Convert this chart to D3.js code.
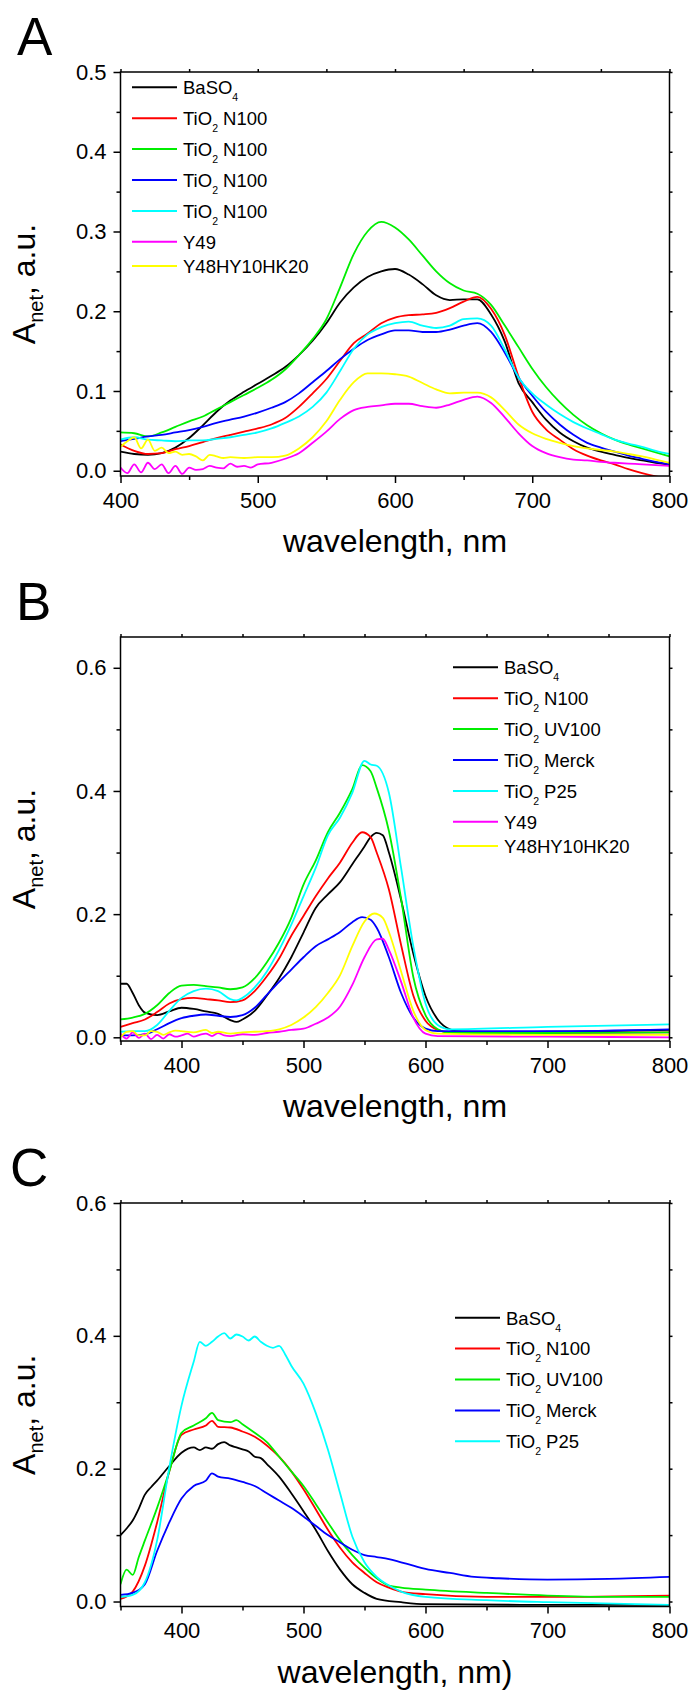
<!DOCTYPE html>
<html>
<head>
<meta charset="utf-8">
<script src="https://cdn.jsdelivr.net/npm/d3@7"></script>
<style>
  body { margin: 0; background: #fff; }
  svg { display: block; font-family: "Liberation Sans", Arial, sans-serif; }
</style>
</head>
<body>
<div id="chart"></div>
<script>
// legend labels, "_x" marks a subscript
const labelsAB = ["BaSO_4", "TiO_2 N100", "TiO_2 N100", "TiO_2 N100", "TiO_2 N100", "Y49", "Y48HY10HK20"];
const labelsB = ["BaSO_4", "TiO_2 N100", "TiO_2 UV100", "TiO_2 Merck", "TiO_2 P25", "Y49", "Y48HY10HK20"];
const labelsC = ["BaSO_4", "TiO_2 N100", "TiO_2 UV100", "TiO_2 Merck", "TiO_2 P25"];
const colors = ["#000000", "#ff0000", "#00ee00", "#0000ff", "#00ffff", "#ff00ff", "#ffff00"];

// panel A, [wavelength nm, A_net]
const A_BaSO4 = [[400,.024],[410,.021],[420,.020],[430,.022],[440,.029],[450,.041],[460,.057],[470,.074],[480,.088],[490,.099],[500,.109],[510,.119],[520,.130],[530,.145],[540,.163],[550,.185],[560,.211],[570,.230],[580,.243],[590,.250],[600,.253],[610,.246],[620,.234],[630,.220],[640,.214],[650,.215],[660,.215],[670,.196],[680,.162],[690,.110],[700,.086],[710,.064],[720,.048],[730,.037],[740,.029],[750,.024],[760,.020],[770,.016],[780,.013],[790,.010],[800,.008]];
const A_N100 = [[400,.033],[410,.025],[420,.021],[430,.022],[440,.027],[450,.031],[460,.036],[470,.041],[480,.045],[490,.049],[500,.053],[510,.058],[520,.066],[530,.080],[540,.097],[550,.115],[560,.138],[570,.160],[580,.172],[590,.185],[600,.192],[610,.195],[620,.196],[630,.198],[640,.204],[650,.212],[660,.218],[670,.203],[680,.170],[690,.118],[700,.074],[710,.052],[720,.039],[730,.027],[740,.019],[750,.013],[760,.008],[770,.002],[780,-.003],[790,-.007],[800,-.010]];
const A_N100g = [[400,.048],[410,.047],[420,.043],[430,.048],[440,.055],[450,.062],[460,.068],[470,.077],[480,.086],[490,.095],[500,.104],[510,.114],[520,.127],[530,.145],[540,.165],[550,.190],[560,.230],[570,.272],[580,.300],[590,.312],[600,.305],[610,.290],[620,.270],[630,.250],[640,.235],[650,.226],[660,.222],[670,.208],[680,.182],[690,.155],[700,.128],[710,.105],[720,.086],[730,.070],[740,.057],[750,.047],[760,.039],[770,.033],[780,.028],[790,.023],[800,.018]];
const A_N100b = [[400,.037],[410,.040],[420,.043],[430,.045],[440,.048],[450,.051],[460,.055],[470,.060],[480,.064],[490,.068],[500,.073],[510,.079],[520,.086],[530,.097],[540,.111],[550,.125],[560,.140],[570,.153],[580,.164],[590,.171],[600,.176],[610,.176],[620,.174],[630,.174],[640,.177],[650,.182],[660,.185],[670,.174],[680,.148],[690,.117],[700,.094],[710,.074],[720,.058],[730,.045],[740,.035],[750,.029],[760,.024],[770,.019],[780,.015],[790,.011],[800,.008]];
const A_N100c = [[400,.039],[410,.042],[420,.039],[430,.038],[440,.037],[450,.038],[460,.038],[470,.040],[480,.042],[490,.045],[500,.048],[510,.053],[520,.060],[530,.068],[540,.080],[550,.098],[560,.125],[570,.153],[580,.171],[590,.180],[600,.185],[610,.187],[620,.182],[630,.179],[640,.182],[650,.190],[660,.191],[670,.182],[680,.152],[690,.117],[700,.097],[710,.083],[720,.071],[730,.061],[740,.053],[750,.046],[760,.039],[770,.034],[780,.030],[790,.025],[800,.021]];
const A_Y49 = [[400,.004],[405,-.003],[410,.008],[415,-.002],[420,.010],[425,.002],[430,.008],[435,-.003],[440,.006],[445,-.004],[450,.004],[455,.001],[460,.002],[465,.006],[470,.004],[475,.003],[480,.009],[485,.005],[490,.006],[495,.004],[500,.008],[510,.010],[520,.015],[530,.022],[540,.035],[550,.049],[560,.065],[570,.076],[580,.080],[590,.082],[600,.084],[610,.084],[620,.081],[630,.079],[640,.083],[650,.089],[660,.093],[670,.085],[680,.067],[690,.047],[700,.031],[710,.022],[720,.017],[730,.014],[740,.013],[750,.011],[760,.010],[770,.009],[780,.008],[790,.007],[800,.006]];
const A_Y48 = [[400,.030],[405,.037],[410,.042],[415,.028],[420,.039],[425,.025],[430,.029],[435,.022],[440,.024],[445,.020],[450,.021],[455,.018],[460,.013],[465,.020],[470,.018],[475,.016],[480,.017],[490,.016],[500,.017],[510,.017],[520,.019],[530,.028],[540,.042],[550,.062],[560,.089],[570,.111],[580,.122],[590,.122],[600,.121],[610,.118],[620,.110],[630,.102],[640,.097],[650,.098],[660,.098],[670,.092],[680,.076],[690,.058],[700,.047],[710,.040],[720,.035],[730,.031],[740,.028],[750,.026],[760,.024],[770,.021],[780,.018],[790,.014],[800,.010]];

// panel B
const B_BaSO4 = [[350,.087],[355,.087],[360,.072],[365,.052],[370,.040],[380,.036],[390,.042],[400,.048],[410,.046],[420,.042],[430,.038],[440,.028],[445,.025],[450,.029],[460,.043],[470,.068],[480,.096],[490,.130],[500,.170],[510,.210],[520,.232],[530,.252],[540,.281],[550,.310],[555,.325],[560,.332],[565,.328],[570,.300],[580,.223],[590,.136],[600,.067],[610,.029],[620,.013],[630,.009],[650,.008],[700,.009],[750,.010],[800,.012]];
const B_N100 = [[350,.017],[360,.023],[370,.029],[380,.041],[390,.055],[400,.062],[410,.064],[420,.062],[430,.060],[440,.057],[450,.060],[460,.075],[470,.099],[480,.128],[490,.165],[500,.197],[510,.229],[520,.258],[530,.284],[540,.316],[548,.333],[555,.325],[560,.300],[570,.240],[580,.150],[590,.068],[600,.027],[610,.012],[620,.008],[700,.007],[800,.008]];
const B_UV100 = [[350,.029],[360,.032],[370,.038],[380,.052],[390,.072],[400,.084],[410,.085],[420,.083],[430,.081],[440,.078],[450,.081],[460,.096],[470,.122],[480,.154],[490,.194],[500,.248],[510,.287],[520,.333],[530,.365],[540,.403],[548,.442],[555,.432],[560,.405],[570,.335],[580,.225],[590,.098],[600,.036],[610,.013],[620,.007],[700,.007],[800,.008]];
const B_Merck = [[350,.003],[360,.003],[370,.005],[380,.013],[390,.023],[400,.031],[410,.035],[420,.037],[430,.035],[440,.033],[450,.036],[460,.048],[470,.069],[480,.090],[490,.110],[500,.130],[510,.148],[520,.159],[530,.171],[540,.187],[548,.195],[555,.191],[560,.178],[570,.130],[580,.072],[590,.032],[600,.014],[610,.010],[700,.010],[800,.013]];
const B_P25 = [[350,.009],[360,.010],[370,.010],[380,.020],[390,.043],[400,.064],[410,.075],[420,.079],[430,.075],[440,.062],[445,.060],[450,.064],[460,.081],[470,.107],[480,.142],[490,.183],[500,.229],[510,.275],[520,.328],[530,.357],[540,.397],[550,.449],[555,.443],[560,.441],[570,.397],[580,.275],[590,.148],[600,.055],[610,.020],[620,.013],[700,.017],[800,.021]];
const B_Y49 = [[350,.006],[355,-.002],[360,.008],[365,-.001],[370,.006],[375,-.003],[380,.004],[385,-.002],[390,.005],[395,.001],[400,.003],[405,.006],[410,.001],[415,.004],[420,.006],[425,.002],[430,.007],[435,.003],[440,.002],[450,.005],[460,.004],[470,.007],[480,.009],[490,.012],[500,.014],[510,.022],[520,.032],[530,.050],[540,.085],[550,.130],[560,.159],[565,.160],[570,.142],[580,.090],[590,.032],[600,.006],[610,.002],[700,.001],[800,.000]];
const B_Y48 = [[350,.000],[355,.009],[360,.010],[365,.003],[370,.003],[375,.010],[380,.009],[385,.004],[390,.008],[395,.011],[400,.010],[410,.008],[420,.012],[425,.007],[430,.009],[440,.006],[450,.008],[460,.009],[470,.010],[480,.013],[490,.020],[500,.032],[510,.049],[520,.072],[530,.101],[540,.148],[550,.188],[558,.201],[565,.194],[570,.171],[580,.107],[590,.043],[600,.012],[610,.006],[700,.004],[800,.004]];

// panel C
const C_BaSO4 = [[350,.100],[355,.110],[360,.122],[365,.140],[370,.161],[375,.172],[380,.182],[390,.204],[400,.224],[410,.232],[415,.228],[420,.232],[425,.230],[430,.237],[435,.240],[440,.235],[445,.232],[450,.229],[455,.226],[460,.218],[465,.216],[470,.207],[480,.188],[490,.163],[500,.136],[510,.108],[520,.076],[530,.048],[540,.026],[550,.013],[560,.004],[580,-.001],[600,-.004],[700,-.005],[800,-.005]];
const C_N100 = [[350,.004],[360,.015],[370,.054],[380,.119],[390,.196],[400,.251],[410,.259],[420,.265],[425,.272],[430,.263],[440,.262],[450,.256],[460,.248],[470,.235],[480,.218],[490,.196],[500,.169],[510,.139],[520,.108],[530,.081],[540,.059],[550,.043],[560,.029],[570,.021],[580,.015],[600,.011],[650,.007],[700,.007],[800,.009]];
const C_UV100 = [[350,.026],[355,.048],[360,.040],[365,.067],[370,.092],[380,.141],[390,.196],[400,.254],[410,.265],[420,.276],[425,.284],[430,.273],[440,.270],[445,.273],[450,.267],[460,.254],[470,.240],[480,.218],[490,.196],[500,.174],[510,.147],[520,.119],[530,.092],[540,.070],[550,.051],[560,.035],[570,.024],[580,.021],[600,.018],[650,.013],[700,.009],[750,.007],[800,.007]];
const C_Merck = [[350,.010],[360,.013],[370,.026],[380,.076],[390,.119],[400,.155],[410,.174],[420,.182],[425,.193],[430,.188],[440,.185],[450,.180],[460,.174],[470,.163],[480,.152],[490,.141],[500,.128],[510,.114],[520,.100],[530,.089],[540,.078],[550,.070],[560,.067],[570,.064],[580,.059],[590,.054],[600,.049],[620,.043],[640,.037],[660,.035],[700,.033],[750,.034],[800,.037]];
const C_P25 = [[350,.007],[360,.010],[370,.029],[380,.092],[390,.202],[400,.295],[410,.361],[415,.391],[420,.385],[425,.391],[430,.399],[435,.404],[440,.396],[445,.402],[450,.399],[455,.393],[460,.399],[465,.391],[470,.385],[475,.382],[480,.385],[485,.372],[490,.355],[500,.328],[510,.284],[520,.229],[530,.163],[540,.098],[550,.059],[560,.037],[570,.024],[580,.015],[600,.007],[650,.002],[700,-.001],[800,-.005]];

const panels = [
  {tag: "A", tagX: 17, top: 72, bottom: 476, xDomain: [400, 800], yDomain: [-0.0066, 0.5],
   xMajor: [400, 500, 600, 700, 800], xMinor: [450, 550, 650, 750],
   yMajor: [0, 0.1, 0.2, 0.3, 0.4, 0.5], yMinor: [0.05, 0.15, 0.25, 0.35, 0.45],
   series: [A_BaSO4, A_N100, A_N100g, A_N100b, A_N100c, A_Y49, A_Y48], labels: labelsAB,
   legendX: 132, legendY: 87.3, xTitle: "wavelength, nm"},
  {tag: "B", tagX: 16, top: 637, bottom: 1041, xDomain: [350, 800], yDomain: [-0.006, 0.65],
   xMajor: [400, 500, 600, 700, 800], xMinor: [350, 450, 550, 650, 750],
   yMajor: [0, 0.2, 0.4, 0.6], yMinor: [0.1, 0.3, 0.5],
   series: [B_BaSO4, B_N100, B_UV100, B_Merck, B_P25, B_Y49, B_Y48], labels: labelsB,
   legendX: 453, legendY: 667.3, xTitle: "wavelength, nm"},
  {tag: "C", tagX: 10, top: 1203, bottom: 1606.5, xDomain: [350, 800], yDomain: [-0.0075, 0.6],
   xMajor: [400, 500, 600, 700, 800], xMinor: [350, 450, 550, 650, 750],
   yMajor: [0, 0.2, 0.4, 0.6], yMinor: [0.1, 0.3, 0.5],
   series: [C_BaSO4, C_N100, C_UV100, C_Merck, C_P25], labels: labelsC,
   legendX: 455, legendY: 1317.7, xTitle: "wavelength, nm)"}
];

const width = 692, height = 1693
const left = 120.5, right = 669.5

const svg = d3.select("#chart").append("svg")
    .attr("width", width)
    .attr("height", height)

function subText(sel, label, subSize, shift) {
    // split "TiO_2 N100" into text / subscript / text
    const parts = label.split(/_(\w)/)
    sel.append("tspan").text(parts[0])
    if (parts.length > 1) {
        sel.append("tspan").attr("font-size", subSize).attr("dy", shift).text(parts[1])
        sel.append("tspan").attr("dy", -shift).text(parts[2])
    }
}

panels.forEach(function (p, i) {
    const x = d3.scaleLinear().domain(p.xDomain).range([left, right])
    const y = d3.scaleLinear().domain(p.yDomain).range([p.bottom, p.top])
    const g = svg.append("g")

    // panel letter
    g.append("text")
        .attr("x", p.tagX)
        .attr("y", p.top - 17)
        .attr("font-size", 53)
        .text(p.tag)

    // clip
    g.append("clipPath").attr("id", "clip" + i)
        .append("rect")
        .attr("x", left).attr("y", p.top)
        .attr("width", right - left).attr("height", p.bottom - p.top)

    const line = d3.line()
        .curve(d3.curveMonotoneX)
        .x(d => x(d[0]))
        .y(d => y(d[1]))

    g.append("g").attr("clip-path", "url(#clip" + i + ")")
        .selectAll("path")
        .data(p.series)
        .enter().append("path")
        .attr("d", line)
        .attr("fill", "none")
        .attr("stroke", (d, k) => colors[k])
        .attr("stroke-width", 1.8)
        .attr("stroke-linejoin", "round")

    // axes: major + minor ticks outside, short mirror ticks on top/right
    const fmtY = d3.format(".1f")
    g.append("g").attr("transform", "translate(0," + p.bottom + ")")
        .call(d3.axisBottom(x).tickValues(p.xMajor).tickSize(7).tickPadding(9))
    g.append("g").attr("transform", "translate(0," + p.bottom + ")")
        .call(d3.axisBottom(x).tickValues(p.xMinor).tickSize(4).tickFormat(""))
    g.append("g").attr("transform", "translate(" + left + ",0)")
        .call(d3.axisLeft(y).tickValues(p.yMajor).tickSize(7).tickPadding(7).tickFormat(fmtY))
    g.append("g").attr("transform", "translate(" + left + ",0)")
        .call(d3.axisLeft(y).tickValues(p.yMinor).tickSize(4).tickFormat(""))
    g.append("g").attr("transform", "translate(0," + p.top + ")")
        .call(d3.axisTop(x).tickValues(p.xMajor.concat(p.xMinor)).tickSize(3).tickFormat(""))
    g.append("g").attr("transform", "translate(" + right + ",0)")
        .call(d3.axisRight(y).tickValues(p.yMajor.concat(p.yMinor)).tickSize(3).tickFormat(""))

    g.selectAll(".domain").remove()
    g.selectAll(".tick line").attr("stroke", "#000").attr("stroke-width", 1.5)
    g.selectAll(".tick text")
        .attr("font-family", "'Liberation Sans', Arial, sans-serif")
        .attr("font-size", 22)
        .attr("fill", "#000")

    g.append("rect")
        .attr("x", left).attr("y", p.top)
        .attr("width", right - left).attr("height", p.bottom - p.top)
        .attr("fill", "none")
        .attr("stroke", "#000")
        .attr("stroke-width", 1.5)

    // axis titles
    g.append("text")
        .attr("x", (left + right) / 2)
        .attr("y", p.bottom + 76)
        .attr("text-anchor", "middle")
        .attr("font-size", 32)
        .text(p.xTitle)

    const yt = g.append("text")
        .attr("transform", "translate(35," + ((p.top + p.bottom) / 2 + 10) + ") rotate(-90)")
        .attr("text-anchor", "middle")
        .attr("font-size", 32)
    yt.append("tspan").text("A")
    yt.append("tspan").attr("font-size", 20).attr("dy", 8).text("net")
    yt.append("tspan").attr("dy", -8).text(", a.u.")

    // legend
    let ly = p.legendY
    p.labels.forEach(function (lab, k) {
        g.append("line")
            .attr("x1", p.legendX).attr("x2", p.legendX + 45)
            .attr("y1", ly).attr("y2", ly)
            .attr("stroke", colors[k])
            .attr("stroke-width", 2)
        const t = g.append("text")
            .attr("x", p.legendX + 51)
            .attr("y", ly + 6.8)
            .attr("font-size", 18.5)
        subText(t, lab, 10.5, 7)
        ly += lab.indexOf("_") >= 0 ? 30.9 : 24.3
    })
})
</script>
</body>
</html>
